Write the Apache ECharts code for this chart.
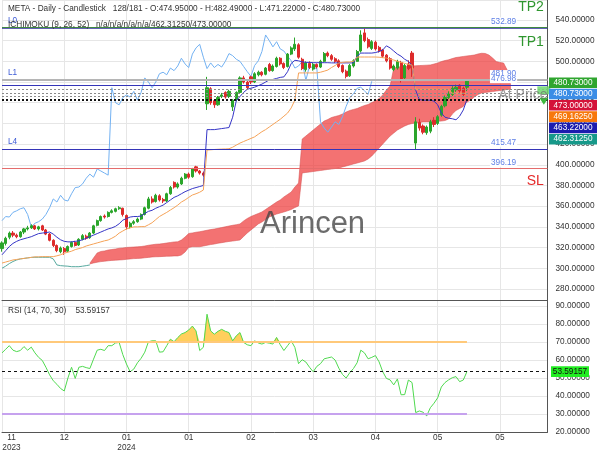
<!DOCTYPE html>
<html>
<head>
<meta charset="utf-8">
<script src="https://cdn.jsdelivr.net/npm/echarts@6/dist/echarts.min.js"></script>
<style>
  html, body { margin: 0; padding: 0; background: #fff; }
  #chart { width: 600px; height: 450px; }
</style>
</head>
<body>
<div id="chart"></div>
<script>
// daily candles, index 0 = first bar on screen
const opens = [
  319, 324, 330, 334, 332, 330.5, 335, 338, 339, 341,
  338, 341, 337, 333, 327, 322, 316, 319, 316.5, 321,
  325, 322.5, 328, 331, 329.5, 334, 341.5, 346, 350.5, 350,
  354, 355, 357.5, 358, 351, 340, 343.5, 345, 347.5, 352,
  358, 367, 364.5, 370, 366.5, 365, 372, 383, 378.5, 381.5,
  387, 391, 388.5, 398, 394, 392, 459, 473.5, 462, 458,
  466, 470, 466, 456, 463, 470, 484, 480, 485, 480,
  487, 489.5, 487.5, 497, 491, 495, 503, 498, 495, 507,
  512, 516, 502, 492, 498, 492.5, 497, 494.5, 500, 508,
  505.5, 502.5, 500.5, 496, 490.5, 486, 495.5, 500, 510, 527.5,
  521, 512.5, 518.5, 513.5, 511, 506, 502.5, 492, 493.5, 499,
  484, 497.5, 508, 421, 441, 437.5, 431, 432.5, 443, 440,
  448, 457, 465, 468, 472.5, 477, 474, 474.95
];
const closes = [
  324.5, 329, 334, 332, 330.5, 335, 338, 339, 341, 338,
  340, 337, 333, 327, 322, 317, 319.5, 316, 321, 325,
  322, 328, 331.5, 329, 334, 341, 346, 350, 349.5, 354,
  355.5, 357.5, 358.5, 352, 340, 343.5, 345, 347.5, 352, 358.5,
  367, 364, 370.5, 366, 365, 372, 378, 378.5, 381.5, 387,
  391, 388, 396, 394, 392, 390, 474.5, 460, 458, 465,
  467.5, 465.5, 471, 462.5, 470, 484, 480, 474.5, 480, 488,
  489.5, 487, 493.5, 491, 495.5, 503, 497.5, 494, 507, 513,
  516.5, 504, 493, 498.5, 494, 497, 494.5, 500, 507.5, 505.5,
  502, 500, 495, 490, 485.5, 496, 500.5, 509.5, 525.5, 520,
  514, 519, 512, 510, 505, 500.5, 493.5, 495.5, 500, 481.5,
  496, 493, 493.5, 441.5, 435.5, 431.5, 436.5, 441.5, 439, 446.5,
  456.5, 465, 468.5, 474, 475, 471.5, 468, 480.73
];
const highs = [
  326, 330.5, 335.5, 336, 333.5, 336, 339, 341, 342.5, 342,
  341, 342, 338, 334, 328, 323, 321, 320.5, 322, 326,
  326.5, 329, 333, 332.5, 335, 342, 347, 351, 352, 355,
  357, 358.5, 360, 358.5, 352, 345, 346.5, 349, 353, 359.5,
  369, 369.5, 372, 371.5, 368, 373, 379.5, 384, 383, 388.5,
  392, 392.5, 397, 399, 395, 393.5, 485, 475, 463.5, 466.5,
  469.5, 471, 472.5, 463.5, 471, 485.5, 486, 481, 486, 489.5,
  491, 490.5, 494.5, 498.5, 497, 504.5, 504, 499, 508, 514.5,
  523, 517.5, 503.5, 500, 500, 498.5, 498, 501.5, 509, 509.5,
  507, 504, 502, 497, 492, 497.5, 502, 511, 530, 531.5,
  523, 520.5, 520, 515, 512, 507, 504, 497, 501.5, 500.5,
  497.5, 501, 510, 446, 444.5, 439, 438, 443.5, 446, 448,
  458, 467, 471, 476, 477.5, 478, 475.5, 482.49
];
const lows = [
  316, 322, 328, 330, 329, 329.5, 333, 336.5, 338, 337,
  336.5, 336, 332, 326, 320.5, 315.5, 314.5, 313, 315.5, 320,
  321, 321.5, 327, 327.5, 328.5, 333, 340.5, 345, 348, 349,
  353, 354, 356.5, 350, 337.5, 338.5, 342, 344, 346.5, 351,
  357, 362.5, 363.5, 364.5, 363, 364, 371, 377, 377, 380.5,
  386, 386.5, 387.5, 392.5, 390.5, 388.5, 453, 458, 455, 457,
  464.5, 464, 464.5, 452, 461.5, 469, 478.5, 473, 478, 479,
  485.5, 485.5, 486.5, 490, 490, 494, 496, 492.5, 494, 506,
  510, 502.5, 491.5, 490, 492.5, 491, 493, 493.5, 499, 504,
  500.5, 498.5, 493.5, 488.5, 483.5, 485, 494, 499.5, 508.5, 518.5,
  512.5, 511, 510.5, 508.5, 503.5, 499, 492, 490.5, 492, 479.5,
  482.5, 491.5, 485, 414.5, 433, 429.5, 429, 430.5, 436.5, 438.5,
  446.5, 455.5, 463.5, 466.5, 470.5, 469.5, 466, 471.22
];

// ichimoku lines
const tenkan = [
  313, 317, 321, 324, 326, 327.5, 328.5, 329.5, 330.5, 332,
  333.5, 334, 334.5, 335, 333, 330, 327.5, 326, 325.5, 325.5,
  326, 326.5, 327.5, 329, 330.5, 332, 333.5, 335, 336.5, 338,
  339, 340.5, 343, 346.5, 348, 349.5, 350, 350, 350.5, 353,
  355, 356, 358, 359.5, 361, 363.5, 366, 368.5, 370, 372,
  374, 375.5, 377, 378, 379, 380, 434, 434, 434, 434.5,
  435, 435.5, 436, 446, 462, 466, 470, 473, 474, 475,
  476.5, 478, 480, 482, 482.5, 483.5, 484.5, 485, 490, 498,
  501, 500.5, 499.5, 499, 499, 498.7, 498.7, 498.7, 498.7, 498.7,
  498.5, 498.5, 498.5, 498.5, 498.5, 498.5, 498.5, 505, 508, 508,
  508, 508, 508.5, 509.5, 511, 515, 513, 510, 507, 505,
  502, 500, 496, 472, 463, 462.5, 462.5, 462.5, 461.5, 458,
  450, 446, 445, 444.5, 443.5, 447, 453, 463.22
];
const kijun = [
  305, 306, 307, 308, 308.5, 309, 309.5, 310, 310.5, 311,
  311, 311.2, 311.2, 311.2, 311.2, 312, 313, 314.5, 315.5, 316.5,
  318, 319, 320, 321.5, 322.5, 323.5, 324.5, 325.5, 326.5, 327.3,
  329, 331, 334, 336, 338, 339, 340, 340, 340.2, 340.2,
  342, 344, 347, 350, 352, 354, 356.3, 358.5, 361, 364,
  366, 368.5, 370.8, 372, 373.5, 375.6, 414.3, 414.5, 414.8, 415,
  415.2, 415.3, 415.5, 417, 419, 421, 422.5, 424, 425.5, 427,
  429.5, 432, 434, 436.5, 439, 441.5, 444, 447, 450, 455,
  462.6, 488.8, 488.8, 488.8, 488.8, 488.8, 488.8, 489.5, 490.5, 491.6,
  494, 496, 498.4, 499, 499.4, 499.4, 500, 504.2, 504.2, 504.2,
  504.2, 504.2, 504.2, 504, 503.5, 503.2, 502, 501.3, 500, 499,
  498, 497, 496.5, 473, 473, 473, 473, 473, 473, 473,
  473, 473, 473, 469.16, 469.16, 469.16, 469.16, 469.1625
];
// single span line before the cloud opens (bars 0-24)
const leadSpan = [
  300, 302, 304.5, 306.5, 308, 309, 309.5, 310, 310.5, 310.6,
  310.6, 310.6, 310.6, 310.6, 309, 303.2, 302.5, 302.2, 302, 301.5,
  301.5, 301.5, 302, 302.5, 303.2
];
// cloud edges, bars 24-139
const cloudStart = 24;
const spanA = [
  304.8, 309.9, 314.8, 316.2, 316.7, 317.6, 318.1, 318.6, 319.3, 319.6,
  320.1, 320.3, 320.5, 320.7, 321.0, 321.5, 322.2, 322.7, 323.2, 323.4,
  323.8, 324.4, 324.9, 325.4, 325.6, 327.3, 330.2, 333.6, 334.1, 334.8,
  335.3, 336.0, 336.7, 337.4, 337.9, 338.6, 339.3, 340.1, 340.8, 341.5,
  342.1, 342.8, 345.7, 348.1, 350.0, 351.5, 352.9, 354.4, 356.8, 359.2,
  361.6, 364.0, 366.0, 368.9, 371.3, 373.7, 378.5, 382.4, 424.9, 427.8,
  430.7, 433.6, 436.5, 439.4, 442.3, 443.8, 445.7, 446.7, 447.6, 449.1,
  451.0, 452.5, 453.5, 454.4, 455.9, 457.3, 458.3, 460.2, 461.7, 464.1,
  467.5, 472.3, 476.2, 493.3, 494.5, 494.8, 495.0, 495.2, 495.5, 495.7,
  495.9, 496.1, 496.3, 496.5, 497.4, 498.4, 499.8, 500.8, 501.5, 502.7,
  503.7, 504.2, 504.7, 505.2, 505.6, 506.1, 507.1, 507.8, 507.6, 506.1,
  503.2, 499.8, 498.9, 498.4, 491.6, 476.2
];
const spanB = [
  304.1, 305.1, 305.8, 306.4, 306.8, 307.2, 307.6, 307.8, 308.0, 308.2,
  308.6, 309.0, 309.3, 309.5, 309.7, 310.1, 310.5, 310.9, 311.1, 311.2,
  311.4, 311.6, 311.7, 311.9, 311.9, 312.8, 315.7, 320.1, 320.8, 320.8,
  320.8, 321.5, 322.2, 322.9, 323.4, 324.2, 324.7, 325.3, 325.9, 326.3,
  326.8, 327.3, 330.7, 334.1, 337.0, 339.9, 342.8, 344.7, 347.1, 349.5,
  351.0, 352.4, 353.4, 354.4, 355.5, 356.8, 358.7, 360.2, 392.1, 392.6,
  393.0, 393.5, 394.0, 394.5, 395.0, 395.5, 395.9, 396.4, 396.9, 397.9,
  398.8, 399.8, 400.8, 401.7, 402.7, 403.7, 405.6, 408.5, 412.4, 416.2,
  420.1, 424.0, 427.8, 430.7, 433.6, 435.6, 437.5, 439.0, 439.9, 440.4,
  440.9, 441.4, 441.4, 441.4, 441.9, 442.0, 442.3, 442.8, 444.3, 449.1,
  452.5, 454.4, 456.4, 460.7, 462.6, 465.5, 467.9, 469.4, 469.9, 470.4,
  470.8, 471.3, 471.8, 472.3, 472.8, 473.0
];

const rsi = [
  64, 66, 68, 65.5, 64.7, 65.3, 67.5, 65.5, 67.2, 64,
  61.5, 59.8, 56, 51.8, 48.5, 46.5, 44.2, 42.8, 50, 56,
  49.8, 56, 56.5, 55.8, 55.3, 60.5, 65.5, 66, 65.3, 68,
  68, 69.5, 69.8, 63, 57.8, 53.5, 55, 58.5, 61, 64.4,
  70.2, 70.7, 70.7, 64.4, 64.6, 68, 71.6, 70.2, 72.5, 74.5,
  75.3, 76.7, 78.9, 76.2, 65.3, 67.1, 85.5, 76.2, 74.4, 76,
  77.1, 76, 75.3, 70.7, 73.5, 75.3, 69.8, 68.5, 68, 70.7,
  69.5, 68.9, 69.8, 69.4, 68.9, 72.6, 68.5, 65.3, 68, 70.7,
  67, 58, 60.2, 58.9, 56, 53.5, 56.5, 58, 60.7, 61.2,
  61.7, 60, 55.5, 52, 50, 53, 55.3, 58.5, 65.5, 64,
  60.7, 61.5, 62.5, 59, 53.5, 49.8, 49, 46.2, 49.5, 40.7,
  40.8, 48.9, 47.5, 30.8, 31.7, 31, 29, 33.5, 36, 39,
  45, 47.5, 49, 50.2, 50.8, 48, 48.9, 53.59157
];

const tickLabels = ['11\n2023', '12', '01\n2024', '01', '02', '03', '04', '05', '05'];
const levelPrices = [532.89, 481.90, 476.98, 415.47, 396.19];
const levelNames = ['L0', 'L1', '', 'L4', ''];
const ichiLevels = [473.0, 469.1625, 466.5, 463.22, 462.3125];
const tagValues = [480.73, 480.73, 473.0, 469.1625, 463.22, 462.3125];
const tagColors = ['#2fa52f', '#3b8de6', '#d4123a', '#f7780c', '#1c1cae', '#17998a'];

const FONT = '"Liberation Sans", Arial, sans-serif';
const slots = 150;
const cats = Array.from({ length: slots }, (_, i) => i);
const lastBar = closes.length - 1;

const candles = opens.map((o, i) => [o, closes[i], lows[i], highs[i]]);
const chikou = closes.slice(26);
const cloudBase = spanB.map((v, k) => [k + cloudStart, v]);
const cloudBand = spanA.map((v, k) => [k + cloudStart, +(v - spanB[k]).toFixed(2)]);
const rsiOver = rsi.map(v => Math.max(v, 70));
const rsiUnder = rsi.map(v => Math.min(v, 30));

const smallText = { fontSize: 8.25, color: '#333', fontFamily: FONT };
const levelColors = ['#2c2c9c', '#b5b5b5', '#3434b8', '#3434b8', '#e46c6c'];
const levelWidths = [1.5, 2, 1, 1, 1.2];

const levelLines = levelPrices.map((p, k) => ({
  yAxis: p,
  lineStyle: { color: levelColors[k], width: levelWidths[k], type: 'solid' },
  label: levelNames[k] ? {
    show: true, position: 'insideStartTop', formatter: levelNames[k],
    color: '#3d5bd6', fontSize: 8.25, distance: [6, 3]
  } : { show: false }
}));
levelLines.push({ yAxis: levelPrices[0], lineStyle: { color: '#3f8a3f', width: 1, type: 'solid' } });
ichiLevels.forEach((p, k) => {
  levelLines.push({
    yAxis: p,
    lineStyle: { color: k < 3 ? '#8a8a8a' : '#111', width: 1, type: [2, 2] }
  });
});

const priceMarks = levelPrices.map(p => ({
  coord: [137, p], value: p,
  label: {
    show: true, formatter: p.toFixed(2), offset: [0, -6], color: '#5c7ee6',
    fontSize: 8.25, backgroundColor: '#fff', padding: [0, 1]
  }
}));
const bigLabel = (coord, text, color, dy, size) => ({
  coord: coord, value: 0,
  label: { show: true, formatter: text, color: color, fontSize: size, align: 'right', offset: [0, dy] }
});
priceMarks.push(bigLabel([148, levelPrices[0]], 'TP2', '#2f962f', -20, 14));
priceMarks.push(bigLabel([148, levelPrices[0]], 'TP1', '#2f962f', 15, 14));
priceMarks.push(bigLabel([148, levelPrices[4]], 'SL', '#e52a2a', 12, 14));
priceMarks.push(bigLabel([149, levelPrices[2]], 'At Price', 'rgba(110,110,110,0.7)', 10, 14));
priceMarks.push({ coord: [148, 472], symbol: 'rect', symbolSize: [13, 8], itemStyle: { color: 'rgba(110,215,110,0.85)' }, label: { show: false } });
priceMarks.push({ coord: [148, 461.5], symbol: 'triangle', symbolRotate: 180, symbolSize: [9, 7], itemStyle: { color: '#3cb83c' }, label: { show: false } });

const option = {
  animation: false,
  textStyle: { fontFamily: FONT },
  title: [
    {
      text: 'META - Daily - Candlestick   ' + (lastBar + 1) + '/181 - O:' + opens[lastBar].toFixed(5) +
        ' - H:' + highs[lastBar].toFixed(5) + ' - L:' + lows[lastBar].toFixed(5) + ' - C:' + closes[lastBar].toFixed(5),
      left: 8, top: 5, padding: 0,
      textStyle: { fontSize: 8.25, fontWeight: 'normal', color: '#333', fontFamily: FONT }
    },
    {
      text: 'ICHIMOKU (9, 26, 52)   n/a/n/a/n/a/n/a/' + tagValues[5].toFixed(5) + '/' + tagValues[2].toFixed(5),
      left: 8, top: 20.5, padding: 0,
      textStyle: { fontSize: 8.25, fontWeight: 'normal', color: '#333', fontFamily: FONT }
    },
    {
      text: 'RSI (14, 70, 30)    ' + rsi[lastBar].toFixed(5),
      left: 8, top: 306.5, padding: 0,
      textStyle: { fontSize: 8.25, fontWeight: 'normal', color: '#333', fontFamily: FONT }
    }
  ],
  grid: [
    { left: 2, right: 52.5, top: 0, height: 300, outerBoundsMode: 'none' },
    { left: 2, right: 52.5, top: 300, height: 132, outerBoundsMode: 'none' }
  ],
  xAxis: [
    {
      type: 'category', gridIndex: 0, data: cats, boundaryGap: false,
      axisLine: { show: true, lineStyle: { color: '#555' } },
      axisTick: { show: false }, axisLabel: { show: false },
      splitLine: { show: true, interval: 16, lineStyle: { color: '#e6e6e6' } }
    },
    {
      type: 'category', gridIndex: 1, data: cats, boundaryGap: false,
      axisLine: { show: true, lineStyle: { color: '#555' } },
      axisTick: { show: false },
      axisLabel: Object.assign({
        interval: 16, margin: 1, lineHeight: 9.5, alignMinLabel: 'left',
        formatter: (v, i) => {
          if (i % 17) return '';
          const t = tickLabels[i / 17] || '';
          if (i === 0) return t.split('\n').map(s => '{c|' + s + '}').join('\n');
          return t;
        },
        rich: { c: { width: 19, align: 'center', fontSize: 8.25, lineHeight: 9.5, color: '#333', fontFamily: FONT } }
      }, smallText),
      splitLine: { show: true, interval: 16, lineStyle: { color: '#e6e6e6' } }
    }
  ],
  yAxis: [
    {
      type: 'value', gridIndex: 0, position: 'right', min: 269.3, max: 559.3,
      minInterval: 20, maxInterval: 20, splitNumber: 15,
      axisLine: { show: true, lineStyle: { color: '#555' } }, axisTick: { show: false },
      axisLabel: Object.assign({ margin: 8, showMinLabel: false, showMaxLabel: false, formatter: v => v.toFixed(5) }, smallText),
      splitLine: { lineStyle: { color: '#e6e6e6' } }
    },
    {
      type: 'value', gridIndex: 1, position: 'right', min: 20, max: 93.4, interval: 10,
      axisLine: { show: true, lineStyle: { color: '#555' } }, axisTick: { show: false },
      axisLabel: Object.assign({ margin: 8, showMaxLabel: false, formatter: v => v.toFixed(5) }, smallText),
      splitLine: { lineStyle: { color: '#e6e6e6' } }
    }
  ],
  series: [
    {
      name: 'cloudBase', type: 'line', xAxisIndex: 0, yAxisIndex: 0, data: cloudBase,
      stack: 'cloud', symbol: 'none', silent: true, z: 1,
      lineStyle: { color: 'rgba(215,80,80,0.7)', width: 0.8 }
    },
    {
      name: 'cloud', type: 'line', xAxisIndex: 0, yAxisIndex: 0, data: cloudBand,
      stack: 'cloud', symbol: 'none', silent: true, z: 1,
      lineStyle: { color: 'rgba(215,80,80,0.7)', width: 0.8 },
      areaStyle: { color: 'rgba(238,60,60,0.72)', opacity: 1 }
    },
    {
      name: 'lead', type: 'line', xAxisIndex: 0, yAxisIndex: 0, data: leadSpan,
      symbol: 'none', silent: true, z: 2, lineStyle: { color: '#56a89e', width: 1 }
    },
    {
      name: 'chikou', type: 'line', xAxisIndex: 0, yAxisIndex: 0, data: chikou,
      symbol: 'none', silent: true, z: 2, lineStyle: { color: '#72b1f2', width: 1 }
    },
    {
      name: 'META', type: 'candlestick', xAxisIndex: 0, yAxisIndex: 0, data: candles,
      barWidth: 2.6, silent: true, z: 3, clip: false,
      itemStyle: { color: '#2ba52b', color0: '#dd2b2b', borderColor: '#2ba52b', borderColor0: '#dd2b2b', borderWidth: 1 },
      markLine: {
        symbol: ['none', 'none'], silent: true, animation: false,
        label: { show: false }, data: levelLines
      },
      markPoint: {
        symbol: 'circle', symbolSize: 1, silent: true, animation: false,
        itemStyle: { color: 'rgba(0,0,0,0)' },
        label: { position: 'inside', fontFamily: FONT },
        data: priceMarks
      }
    },
    {
      name: 'tenkan', type: 'line', xAxisIndex: 0, yAxisIndex: 0, data: tenkan,
      symbol: 'none', silent: true, z: 4, lineStyle: { color: '#3535c6', width: 1 }
    },
    {
      name: 'kijun', type: 'line', xAxisIndex: 0, yAxisIndex: 0, data: kijun,
      symbol: 'none', silent: true, z: 4, lineStyle: { color: '#f5a257', width: 1 }
    },
    {
      name: 'rsiOver', type: 'line', xAxisIndex: 1, yAxisIndex: 1, data: rsiOver,
      symbol: 'none', silent: true, z: 1, lineStyle: { width: 0, opacity: 0 },
      areaStyle: { color: '#ffcf5c', origin: 70, opacity: 1 }
    },
    {
      name: 'rsiUnder', type: 'line', xAxisIndex: 1, yAxisIndex: 1, data: rsiUnder,
      symbol: 'none', silent: true, z: 1, lineStyle: { width: 0, opacity: 0 },
      areaStyle: { color: '#c9a3f2', origin: 30, opacity: 1 }
    },
    {
      name: 'RSI', type: 'line', xAxisIndex: 1, yAxisIndex: 1, data: rsi,
      symbol: 'none', silent: true, z: 3, lineStyle: { color: '#4fd94f', width: 1 },
      markLine: {
        symbol: ['none', 'none'], silent: true, animation: false, label: { show: false },
        data: [
          [{ coord: [0, 70], lineStyle: { color: '#ffc97a', width: 2, type: 'solid' } }, { coord: [lastBar, 70] }],
          [{ coord: [0, 30], lineStyle: { color: '#c6a2ee', width: 2, type: 'solid' } }, { coord: [lastBar, 30] }],
          { yAxis: rsi[lastBar], lineStyle: { color: '#111', width: 1, type: [3, 3] } }
        ]
      }
    }
  ]
};

const chart = echarts.init(document.getElementById('chart'));
chart.setOption(option);

// stacked value tags on the right price axis
const graphics = [];
let prevY = -Infinity;
tagValues.forEach((v, k) => {
  let y = chart.convertToPixel({ yAxisIndex: 0 }, v);
  y = Math.max(y + 1.4, prevY + 11.3);
  prevY = y;
  graphics.push({
    type: 'rect', z: 100, shape: { x: 549, y: y - 5.3, width: 48, height: 10.6 },
    style: { fill: tagColors[k] }, silent: true
  });
  graphics.push({
    type: 'text', z: 101, silent: true,
    style: { x: 573, y: y, text: v.toFixed(5), fill: '#fff', align: 'center', verticalAlign: 'middle', fontSize: 8.25, fontFamily: FONT }
  });
});
const rsiY = chart.convertToPixel({ yAxisIndex: 1 }, rsi[lastBar]);
graphics.push({
  type: 'rect', z: 100, silent: true, shape: { x: 551, y: rsiY - 5.3, width: 38, height: 10.6 },
  style: { fill: '#22ee22' }
});
graphics.push({
  type: 'text', z: 101, silent: true,
  style: { x: 570, y: rsiY, text: rsi[lastBar].toFixed(5), fill: '#111', align: 'center', verticalAlign: 'middle', fontSize: 8.25, fontFamily: FONT }
});
graphics.push({
  type: 'text', z: 90, silent: true, left: 260, top: 209,
  style: { text: 'Arincen', fill: 'rgba(70,70,70,0.8)', fontSize: 31, fontFamily: FONT }
});
chart.setOption({ graphic: graphics });
</script>
</body>
</html>
